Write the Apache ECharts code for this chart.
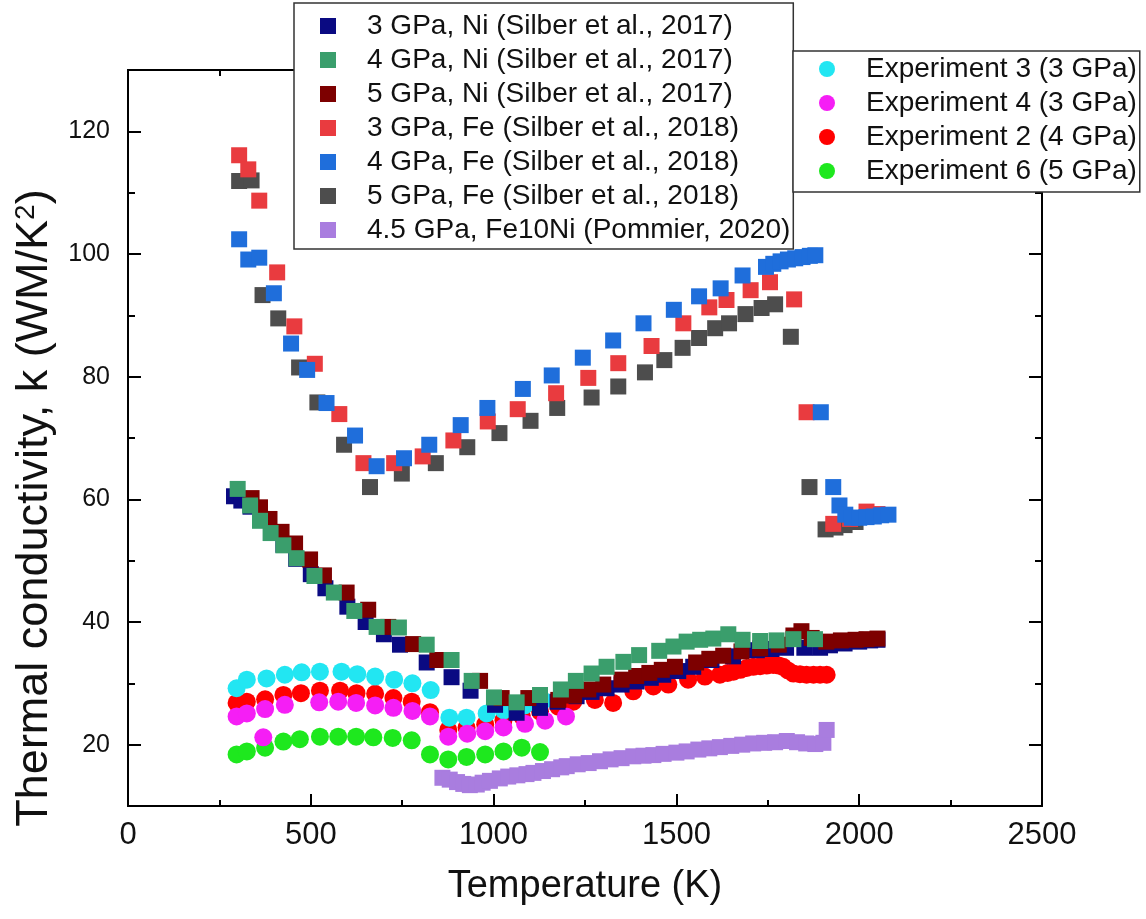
<!DOCTYPE html>
<html>
<head>
<meta charset="utf-8">
<script src="https://cdn.jsdelivr.net/npm/echarts@6/dist/echarts.min.js"></script>
<style>
html,body{margin:0;padding:0;background:#fff;}
#chart{width:1146px;height:919px;}
</style>
</head>
<body>
<div id="chart"></div>
<script>
// ---- data: [temperature K, conductivity] ----
const ni3GPa = [[290,60.5],[310,59.8],[335,58.8],[365,56.8],[395,54.6],[425,52.6],[460,50.3],[500,47.8],[540,45.5],[600,42.5],[650,40],[700,38],[744,36.3],[817,33.4],[885,31],[937,28.8],[1004,26.5],[1063,25.2],[1127,26],[1175,27],[1227,27.9],[1268,28.6],[1309,29.2],[1350,29.8],[1391,30.3],[1430,30.9],[1464,31.4],[1505,32],[1546,32.7],[1596,33.8],[1655,34.4],[1720,35.4],[1760,35.6],[1800,35.8],[1850,35.8],[1893,35.8],[1920,36.2],[1960,36.5],[2000,36.8],[2030,37],[2050,37.1]];
const ni4GPa = [[300,61.7],[334,59],[361,56.5],[390,54.5],[425,52.5],[461,50.4],[510,47.5],[563,44.8],[619,41.8],[680,39.2],[741,39.1],[817,36.3],[885,33.8],[940,30.4],[1001,27.7],[1063,26.9],[1127,28.1],[1184,29],[1225,30.4],[1268,31.6],[1309,32.7],[1355,33.5],[1398,34.6],[1453,35.3],[1492,36],[1528,36.8],[1565,37.1],[1601,37.3],[1642,38],[1681,37.1],[1729,36.9],[1774,37],[1820,37.2],[1879,37.2]];
const ni5GPa = [[338,60.2],[361,58.7],[387,56.8],[420,54.7],[457,52.8],[498,50.2],[536,47.6],[598,44.8],[657,42],[712,39.2],[780,36.4],[846,33.8],[963,30.4],[1022,27.6],[1095,27.6],[1177,27.3],[1220,28],[1259,29],[1300,29.8],[1350,30.6],[1390,31.2],[1426,31.7],[1460,32.2],[1496,32.7],[1554,33.4],[1590,34],[1628,34.5],[1678,35.2],[1729,35.7],[1780,36.3],[1820,37.8],[1842,38.5],[1870,37.4],[1910,36.8],[1950,37],[1990,37.1],[2020,37.2],[2050,37.3]];
const fe3GPa = [[304,116.1],[329,113.8],[359,108.7],[408,97],[455,88.2],[511,82.1],[578,73.9],[644,65.9],[728,65.9],[806,67],[890,69.6],[984,72.7],[1066,74.7],[1171,77.3],[1259,79.8],[1341,82.2],[1432,85],[1519,88.7],[1590,91.3],[1637,92.5],[1703,94.1],[1756,95.4],[1822,92.6],[1856,74.2],[1929,56],[1975,56.8],[2020,58],[2050,57.6]];
const fe4GPa = [[304,102.4],[329,99.1],[359,99.4],[399,93.6],[446,85.4],[490,81.1],[543,75.7],[621,70.4],[680,65.4],[755,66.7],[824,68.9],[910,72.1],[983,74.9],[1080,78],[1159,80.2],[1244,83.1],[1327,85.9],[1410,88.7],[1493,90.9],[1562,93.1],[1621,94.4],[1681,96.5],[1745,97.9],[1765,98.4],[1785,98.8],[1805,99.1],[1825,99.3],[1845,99.5],[1865,99.7],[1880,99.8],[1895,74.2],[1929,62],[1946,59],[1962,57.5],[1980,57],[2000,57],[2020,57.1],[2040,57.2],[2060,57.4],[2080,57.5]];
const fe5GPa = [[304,111.9],[338,112],[368,93.3],[411,89.5],[468,81.5],[518,75.8],[591,68.9],[662,62],[749,64.2],[842,65.9],[928,68.5],[1016,70.8],[1101,72.8],[1174,74.9],[1268,76.6],[1341,78.4],[1414,80.7],[1467,82.7],[1517,84.7],[1562,86.3],[1606,87.9],[1644,88.7],[1689,90.2],[1733,91.2],[1770,91.8],[1813,86.5],[1864,62],[1908,55.1],[1935,55.4],[1960,55.8],[1990,56.3]];
const fe10Ni = [[860,14.6],[880,14.3],[900,13.9],[917,13.6],[935,13.4],[954,13.5],[970,13.8],[990,14.1],[1017,14.5],[1040,14.8],[1065,15],[1090,15.2],[1109,15.4],[1135,15.7],[1160,16],[1185,16.3],[1200,16.5],[1230,16.8],[1260,17],[1291,17.3],[1320,17.6],[1350,17.8],[1382,18.1],[1410,18.2],[1437,18.3],[1465,18.5],[1500,18.7],[1528,18.9],[1560,19.2],[1590,19.4],[1619,19.6],[1650,19.8],[1680,20],[1710,20.2],[1740,20.3],[1770,20.4],[1802,20.6],[1830,20.4],[1855,20.2],[1880,20.1],[1902,20.3],[1911,22.4]];
const exp3 = [[297,29.2],[325,30.6],[379,30.8],[429,31.4],[475,31.8],[525,31.9],[584,31.9],[627,31.5],[676,31.1],[728,30.6],[778,30],[828,28.9],[879,24.4],[926,24.4],[981,25.1],[1028,25.6],[1085,26.4],[1136,27.2]];
const exp4 = [[297,24.6],[325,25.1],[375,25.8],[429,26.5],[370,21.2],[523,26.9],[575,27],[624,26.8],[676,26.4],[726,26],[778,25.5],[826,24.6],[876,21.3],[928,21.8],[977,22.2],[1027,22.8],[1086,23.4],[1141,23.9],[1198,24.6]];
const exp2 = [[297,26.8],[325,27],[375,27.4],[425,28.1],[473,28.4],[525,28.8],[580,28.8],[625,28.4],[676,28.3],[726,27.6],[776,27],[826,25.3],[876,22.4],[926,22.8],[977,23.3],[1027,24],[1077,24.7],[1127,25.4],[1177,26.2],[1218,27],[1277,27.3],[1327,26.8],[1382,28.7],[1437,29.5],[1478,29.8],[1532,30.6],[1578,31.1],[1619,31.4],[1640,31.7],[1656,31.9],[1675,32.2],[1692,32.5],[1710,32.7],[1729,32.8],[1747,32.9],[1765,33],[1780,32.9],[1792,32.7],[1805,32.1],[1820,31.6],[1838,31.5],[1856,31.4],[1875,31.4],[1893,31.4],[1911,31.4]];
const exp6 = [[297,18.4],[325,18.9],[375,19.5],[425,20.5],[470,20.9],[525,21.3],[575,21.3],[624,21.3],[671,21.2],[724,21.1],[776,20.7],[826,18.4],[876,17.6],[926,18],[977,18.4],[1027,18.9],[1077,19.5],[1127,18.8]];

const legendLeft = ['3 GPa, Ni (Silber et al., 2017)','4 GPa, Ni (Silber et al., 2017)','5 GPa, Ni (Silber et al., 2017)','3 GPa, Fe (Silber et al., 2018)','4 GPa, Fe (Silber et al., 2018)','5 GPa, Fe (Silber et al., 2018)','4.5 GPa, Fe10Ni (Pommier, 2020)'];
const legendRight = ['Experiment 3 (3 GPa)','Experiment 4 (3 GPa)','Experiment 2 (4 GPa)','Experiment 6 (5 GPa)'];
const xTicks = [0,500,1000,1500,2000,2500];
const yTicks = [20,40,60,80,100,120];

const SQ = 'path://M0,0L10,0L10,10L0,10Z';
const sans = "'Liberation Sans', Arial, sans-serif";
const narrow = "'Liberation Sans Narrow', 'Arial Narrow', 'Liberation Sans', sans-serif";

function sq(name, data, color) {
  return {type:'scatter', name, data, symbol:'rect', symbolSize:16, itemStyle:{color, opacity:1}, emphasis:{disabled:true}, silent:true};
}
function ci(name, data, color) {
  return {type:'scatter', name, data, symbol:'circle', symbolSize:18, itemStyle:{color, opacity:1}, emphasis:{disabled:true}, silent:true};
}

const axisLineStyle = {show:true, lineStyle:{color:'#000', width:2}};
const xBase = {type:'value', min:0, max:2500, interval:500, splitLine:{show:false}, axisLine:axisLineStyle};
const yBase = {type:'value', min:10, max:130, splitLine:{show:false}, axisLine:axisLineStyle};

const option = {
  animation:false,
  backgroundColor:'#fff',
  grid:{left:128, right:104, top:70, bottom:113, containLabel:false},
  xAxis:[
    Object.assign({}, xBase, {position:'bottom',
      axisTick:{show:true, inside:true, length:12, lineStyle:{color:'#000', width:2}},
      minorTick:{show:true, splitNumber:2, length:6, lineStyle:{color:'#000', width:2}},
      axisLabel:{show:true, margin:14, fontSize:31, fontFamily:narrow, color:'#111',
        formatter:v => xTicks.indexOf(v) >= 0 ? String(v) : ''},
      name:'Temperature (K)', nameLocation:'middle', nameGap:62,
      nameTextStyle:{fontSize:38, fontFamily:narrow, color:'#111'}}),
    Object.assign({}, xBase, {position:'top',
      axisTick:{show:true, inside:true, length:12, lineStyle:{color:'#000', width:2}},
      minorTick:{show:true, splitNumber:2, length:6, lineStyle:{color:'#000', width:2}},
      axisLabel:{show:false}})
  ],
  yAxis:[
    Object.assign({}, yBase, {position:'left', interval:10,
      axisTick:{show:true, inside:true, length:7, lineStyle:{color:'#000', width:2}},
      axisLabel:{show:true, margin:18, fontSize:25, fontFamily:sans, color:'#111',
        formatter:v => yTicks.indexOf(v) >= 0 ? String(v) : ''},
      name:'Thermal conductivity, k (WM/K{sup|2})', nameLocation:'middle', nameGap:68,
      nameTextStyle:{fontSize:45, fontFamily:sans, color:'#111', padding:[0,140,0,0],
        rich:{sup:{fontSize:28, fontFamily:sans, color:'#111', verticalAlign:'top', padding:[0,0,18,0]}}}}),
    Object.assign({}, yBase, {position:'left', splitNumber:6,
      axisTick:{show:true, inside:true, length:13, lineStyle:{color:'#000', width:2}},
      axisLabel:{show:false}}),
    Object.assign({}, yBase, {position:'right', interval:10,
      axisTick:{show:true, inside:true, length:7, lineStyle:{color:'#000', width:2}},
      axisLabel:{show:false}}),
    Object.assign({}, yBase, {position:'right', splitNumber:6,
      axisTick:{show:true, inside:true, length:13, lineStyle:{color:'#000', width:2}},
      axisLabel:{show:false}})
  ],
  legend:[
    {orient:'vertical', left:294, top:3, padding:[6,3,2,26], itemGap:0,
     itemWidth:68, itemHeight:16, backgroundColor:'#fff', borderColor:'#333', borderWidth:1.5,
     textStyle:{fontSize:28, fontFamily:sans, color:'#111', lineHeight:34},
     selectedMode:false,
     data:legendLeft.map(n => ({name:n, icon:SQ}))},
    {orient:'vertical', left:793, top:51, padding:[1,3,4,26], itemGap:0,
     itemWidth:68, itemHeight:16, backgroundColor:'#fff', borderColor:'#333', borderWidth:1.5,
     textStyle:{fontSize:28, fontFamily:sans, color:'#111', lineHeight:34},
     selectedMode:false,
     data:legendRight.map(n => ({name:n, icon:'circle'}))}
  ],
  series:[
    ci(legendRight[2], exp2, '#ff0000'),
    ci(legendRight[3], exp6, '#1ee81e'),
    ci(legendRight[0], exp3, '#22e6f2'),
    ci(legendRight[1], exp4, '#f51ef5'),
    sq(legendLeft[0], ni3GPa, '#0a0a82'),
    sq(legendLeft[2], ni5GPa, '#7d0000'),
    sq(legendLeft[1], ni4GPa, '#3a9e6c'),
    sq(legendLeft[6], fe10Ni, '#a97ddf'),
    sq(legendLeft[5], fe5GPa, '#4d4d4d'),
    sq(legendLeft[3], fe3GPa, '#e93b3f'),
    sq(legendLeft[4], fe4GPa, '#1f6edb')
  ]
};

const chart = echarts.init(document.getElementById('chart'), null, {renderer:'canvas'});
chart.setOption(option);
</script>
</body>
</html>
